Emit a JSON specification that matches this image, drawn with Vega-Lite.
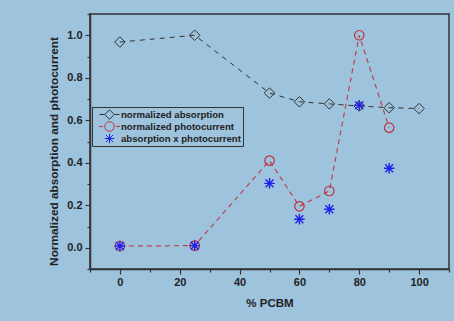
{
  "$schema": "https://vega.github.io/schema/vega-lite/v6.json",
  "width": 359,
  "height": 255,
  "autosize": "none",
  "padding": {"left": 90, "top": 14, "right": 5, "bottom": 52},
  "background": "#9ec3dc",
  "config": {
    "view": {"stroke": "#333333", "strokeWidth": 1.5},
    "font": "Liberation Sans",
    "legend": {"strokeWidth": 1}
  },
  "data": {
    "values": [
      {"x": 0, "series": "normalized absorption", "y": 0.968},
      {"x": 25, "series": "normalized absorption", "y": 1.0},
      {"x": 50, "series": "normalized absorption", "y": 0.728},
      {"x": 60, "series": "normalized absorption", "y": 0.687},
      {"x": 70, "series": "normalized absorption", "y": 0.677},
      {"x": 80, "series": "normalized absorption", "y": 0.667},
      {"x": 90, "series": "normalized absorption", "y": 0.659},
      {"x": 100, "series": "normalized absorption", "y": 0.655},
      {"x": 0, "series": "normalized photocurrent", "y": 0.008},
      {"x": 25, "series": "normalized photocurrent", "y": 0.01},
      {"x": 50, "series": "normalized photocurrent", "y": 0.41},
      {"x": 60, "series": "normalized photocurrent", "y": 0.195},
      {"x": 70, "series": "normalized photocurrent", "y": 0.267},
      {"x": 80, "series": "normalized photocurrent", "y": 1.0},
      {"x": 90, "series": "normalized photocurrent", "y": 0.565},
      {"x": 0, "series": "absorption x photocurrent", "y": 0.008},
      {"x": 25, "series": "absorption x photocurrent", "y": 0.01},
      {"x": 50, "series": "absorption x photocurrent", "y": 0.303},
      {"x": 60, "series": "absorption x photocurrent", "y": 0.134},
      {"x": 70, "series": "absorption x photocurrent", "y": 0.181},
      {"x": 80, "series": "absorption x photocurrent", "y": 0.67},
      {"x": 90, "series": "absorption x photocurrent", "y": 0.374}
    ]
  },
  "encoding": {
    "x": {
      "field": "x",
      "type": "quantitative",
      "scale": {"domain": [-10, 110], "nice": false, "zero": false},
      "axis": {
        "title": "% PCBM",
        "values": [-10, 0, 10, 20, 30, 40, 50, 60, 70, 80, 90, 100, 110],
        "labelExpr": "datum.value % 20 === 0 && datum.value >= 0 && datum.value <= 100 ? datum.label : ''",
        "tickSize": {"condition": {"test": "datum.value % 20 !== 0", "value": 3}, "value": 5},
        "grid": false,
        "domainColor": "#333333",
        "domainWidth": 1.5,
        "tickColor": "#333333",
        "tickWidth": 1.2,
        "labelFont": "Liberation Sans",
        "labelFontSize": 11,
        "labelFontWeight": "bold",
        "labelColor": "#222222",
        "labelPadding": 2,
        "labelOverlap": false,
        "titleFont": "Liberation Sans",
        "titleFontSize": 11.5,
        "titleFontWeight": "bold",
        "titleColor": "#222222",
        "titlePadding": 10
      }
    },
    "y": {
      "field": "y",
      "type": "quantitative",
      "scale": {"domain": [-0.1, 1.1], "nice": false, "zero": false},
      "axis": {
        "title": "Normalized absorption and photocurrent",
        "values": [-0.1, 0, 0.1, 0.2, 0.3, 0.4, 0.5, 0.6, 0.7, 0.8, 0.9, 1.0, 1.1],
        "format": ".1f",
        "labelExpr": "abs(round(datum.value*10)) % 2 === 0 ? datum.label : ''",
        "tickSize": {"condition": {"test": "abs(round(datum.value*10)) % 2 === 1", "value": 3}, "value": 5},
        "grid": false,
        "domainColor": "#333333",
        "domainWidth": 1.5,
        "tickColor": "#333333",
        "tickWidth": 1.2,
        "labelFont": "Liberation Sans",
        "labelFontSize": 11,
        "labelFontWeight": "bold",
        "labelColor": "#222222",
        "labelPadding": 3,
        "labelOverlap": false,
        "titleFont": "Liberation Sans",
        "titleFontSize": 11.8,
        "titleFontWeight": "bold",
        "titleColor": "#222222",
        "titlePadding": 7,
        "titleY": 137
      }
    }
  },
  "layer": [
    {
      "transform": [{"filter": "datum.series === 'normalized absorption'"}],
      "mark": {"type": "line", "color": "#333333", "strokeWidth": 1, "strokeDash": [5, 5]}
    },
    {
      "transform": [{"filter": "datum.series === 'normalized photocurrent'"}],
      "mark": {"type": "line", "color": "#c0404c", "strokeWidth": 1.2, "strokeDash": [5, 4]}
    },
    {
      "transform": [{"filter": "datum.series === 'normalized absorption'"}],
      "mark": {"type": "point", "shape": "diamond", "filled": false, "color": "#333333", "size": 110, "strokeWidth": 1, "opacity": 1}
    },
    {
      "transform": [{"filter": "datum.series === 'normalized photocurrent'"}],
      "mark": {"type": "point", "shape": "circle", "filled": false, "color": "#c03040", "size": 90, "strokeWidth": 1.2, "opacity": 1}
    },
    {
      "transform": [{"filter": "datum.series === 'absorption x photocurrent'"}],
      "mark": {"type": "point", "shape": "M-1,0H1M0,-1V1M-0.75,-0.75L0.75,0.75M-0.75,0.75L0.75,-0.75", "filled": false, "color": "#2020e8", "size": 110, "strokeWidth": 1.4, "opacity": 1}
    },
    {
      "transform": [{"filter": "datum.x > 1000"}],
      "mark": {"type": "point", "filled": false, "strokeWidth": 1, "opacity": 1, "size": 90},
      "encoding": {
        "color": {
          "field": "series",
          "type": "nominal",
          "scale": {
            "domain": ["normalized absorption", "normalized photocurrent", "absorption x photocurrent"],
            "range": ["#333333", "#c03040", "#2020e8"]
          },
          "legend": {
            "title": null,
            "orient": "none",
            "legendX": 2,
            "legendY": 93,
            "padding": 2,
            "rowPadding": 1,
            "clipHeight": 11,
            "strokeColor": "#333333",
            "symbolOffset": 10,
            "labelOffset": 6,
            "symbolSize": 90,
            "symbolStrokeWidth": 1,
            "labelFont": "Liberation Sans",
            "labelFontSize": 9.6,
            "labelFontWeight": "bold",
            "labelColor": "#222222",
            "labelLimit": 300
          }
        },
        "shape": {
          "field": "series",
          "type": "nominal",
          "scale": {
            "domain": ["normalized absorption", "normalized photocurrent", "absorption x photocurrent"],
            "range": [
              "M-2.1,0H-1M1,0H2.1M0,-1L1,0L0,1L-1,0Z",
              "M-2.2,0H-1.4M1.4,0H2.2M1,0L0.924,0.383L0.707,0.707L0.383,0.924L0,1L-0.383,0.924L-0.707,0.707L-0.924,0.383L-1,0L-0.924,-0.383L-0.707,-0.707L-0.383,-0.924L0,-1L0.383,-0.924L0.707,-0.707L0.924,-0.383Z",
              "M-1,0H1M0,-1V1M-0.75,-0.75L0.75,0.75M-0.75,0.75L0.75,-0.75"
            ]
          },
          "legend": {
            "title": null,
            "orient": "none",
            "legendX": 2,
            "legendY": 93,
            "padding": 2,
            "rowPadding": 1,
            "clipHeight": 11,
            "strokeColor": "#333333",
            "symbolOffset": 10,
            "labelOffset": 6,
            "symbolSize": 90,
            "symbolStrokeWidth": 1,
            "labelFont": "Liberation Sans",
            "labelFontSize": 9.6,
            "labelFontWeight": "bold",
            "labelColor": "#222222",
            "labelLimit": 300
          }
        }
      }
    }
  ]
}
